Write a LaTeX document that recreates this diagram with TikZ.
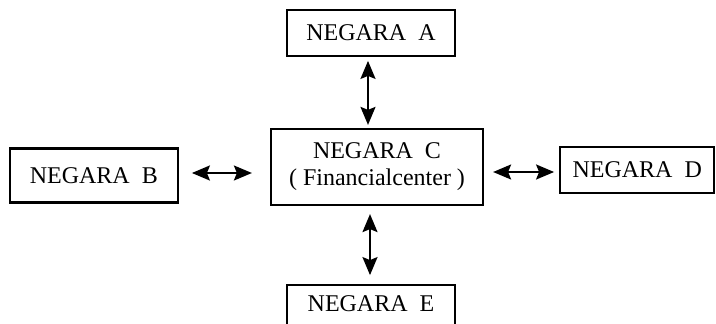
\documentclass[tikz,border=0pt]{standalone}
\usepackage{fontspec}
\setmainfont{Liberation Serif}
\usetikzlibrary{positioning,arrows.meta}

\begin{document}
\begin{tikzpicture}[
    x=1pt,y=1pt,
    country/.style={draw,line width=2.2pt,align=center,inner sep=0pt,minimum width=168pt,minimum height=46pt,font=\fontsize{24}{27}\selectfont},
    link/.style={<->,line width=2pt,>={Stealth[length=18pt,width=15pt,inset=3pt]}},
  ]
    \useasboundingbox (0,0) rectangle (716,-324);
    \node[country,minimum width=212pt,minimum height=76pt] (negc) at (377,-167) {NEGARA\ \ C\\( Financialcenter )};
    \node[country,above=71pt of negc,xshift=-6pt] (nega) {NEGARA\ \ A};
    \node[country,left=91pt of negc,yshift=-8.5pt,minimum height=54pt] (negb) {NEGARA\ \ B};
    \node[country,right=75pt of negc,yshift=-3pt,minimum width=154pt] (negd) {NEGARA\ \ D};
    \node[country,below=78pt of negc,xshift=-6pt,text depth=10pt] (nege) {NEGARA\ \ E};

    \draw[link] ([xshift=-3pt,yshift=-4pt]nega.south) -- ([xshift=-9pt,yshift=3pt]negc.north);
    \draw[link] ([xshift=13pt,yshift=2.5pt]negb.east) -- ([xshift=-18pt,yshift=-6pt]negc.west);
    \draw[link] ([xshift=9pt,yshift=-5pt]negc.east) -- ([xshift=-5pt,yshift=-2pt]negd.west);
    \draw[link] ([xshift=-7pt,yshift=-8pt]negc.south) -- ([xshift=-1pt,yshift=9pt]nege.north);
  \end{tikzpicture}
\end{document}
